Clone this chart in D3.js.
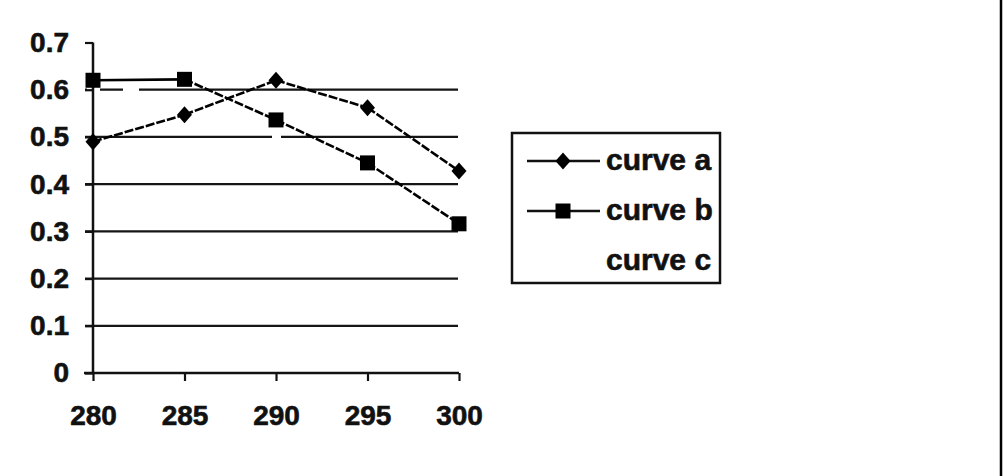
<!DOCTYPE html>
<html>
<head>
<meta charset="utf-8">
<script src="https://cdn.jsdelivr.net/npm/d3@7/dist/d3.min.js"></script>
<style>
  body { margin: 0; background: #fff; }
  text { font-family: "Liberation Sans", Arial, sans-serif; font-weight: bold; fill: #111; }
</style>
</head>
<body>
<div class="draw-chart"></div>
<script>
const xValues = [280, 285, 290, 295, 300];
const curveA = [0.49, 0.547, 0.62, 0.562, 0.428];
const curveB = [0.62, 0.622, 0.536, 0.445, 0.316];
const curveC = [null, null, null, null, null];
const yTicks = [0, 0.1, 0.2, 0.3, 0.4, 0.5, 0.6, 0.7];
const seriesNames = ["curve a", "curve b", "curve c"];

const W = 1004, H = 476;
const plot = { left: 93, right: 459, top: 42.5, bottom: 373 };

const svg = d3.select(".draw-chart")
  .append("svg")
  .attr("width", W)
  .attr("height", H);

svg.append("rect").attr("width", W).attr("height", H).attr("fill", "#fff");

// frame edge at the right
svg.append("line")
  .attr("x1", 1001).attr("x2", 1001)
  .attr("y1", 0).attr("y2", H)
  .attr("stroke", "#000").attr("stroke-width", 2.5);

let x = d3.scaleLinear().domain([280, 300]).range([plot.left, plot.right]);
let y = d3.scaleLinear().domain([0, 0.7]).range([plot.bottom, plot.top]);

// gridlines (they run out to the left as ticks)
let grid = svg.append("g");
grid.selectAll("line")
  .data(yTicks.filter((d) => d > 0 && d < 0.7))
  .enter()
  .append("line")
  .attr("x1", plot.left - 8)
  .attr("x2", plot.right - 1)
  .attr("y1", (d) => y(d))
  .attr("y2", (d) => y(d))
  .attr("stroke", "#151515")
  .attr("stroke-width", 2.2)
  .attr("stroke-dasharray", (d) => {
    if (Math.abs(d - 0.6) < 1e-9) return "2,13,23,16,400";
    if (Math.abs(d - 0.5) < 1e-9) return "187,9,300";
    return null;
  });

const tickFont = (sel) => sel
  .style("font-size", "28px")
  .style("font-family", "'Liberation Sans', Arial, sans-serif")
  .style("font-weight", "bold")
  .attr("fill", "#111")
  .attr("stroke", "#111")
  .attr("stroke-width", 0.6);

// y axis
let yAxis = d3.axisLeft(y)
  .tickValues(yTicks)
  .tickSize(8)
  .tickPadding(16)
  .tickFormat((d) => (d === 0 ? "0" : d3.format(".1f")(d)));

let yg = svg.append("g")
  .attr("transform", "translate(" + plot.left + ",0)")
  .call(yAxis);
yg.select(".domain").attr("stroke", "#111").attr("stroke-width", 2.5)
  .attr("d", "M0," + plot.top + "V" + plot.bottom);
yg.selectAll(".tick line").attr("stroke", "#111").attr("stroke-width", 2.2);
yg.selectAll(".tick text").call(tickFont);

// x axis
let xAxis = d3.axisBottom(x)
  .tickValues(xValues)
  .tickSize(8)
  .tickSizeOuter(0)
  .tickPadding(24);

let xg = svg.append("g")
  .attr("transform", "translate(0," + plot.bottom + ")")
  .call(xAxis);
xg.select(".domain").attr("stroke", "#111").attr("stroke-width", 2.5)
  .attr("d", "M" + (plot.left - 9) + ",0H" + plot.right);
xg.selectAll(".tick line").attr("stroke", "#111").attr("stroke-width", 2.2);
xg.selectAll(".tick text").call(tickFont);

// series lines, drawn segment by segment so the sloped parts get the
// broken look of the original
const series = [
  { name: seriesNames[0], values: curveA, marker: "diamond" },
  { name: seriesNames[1], values: curveB, marker: "square" },
  { name: seriesNames[2], values: curveC, marker: "none" },
];

series.forEach((s) => {
  let pts = xValues.map((xv, i) => ({ x: xv, v: s.values[i] }))
    .filter((p) => p.v != null);
  let segs = d3.pairs(pts);
  svg.append("g")
    .selectAll("line")
    .data(segs)
    .enter()
    .append("line")
    .attr("x1", (d) => x(d[0].x))
    .attr("y1", (d) => y(d[0].v))
    .attr("x2", (d) => x(d[1].x))
    .attr("y2", (d) => y(d[1].v))
    .attr("stroke", "#000")
    .attr("stroke-width", 2.6)
    .attr("stroke-dasharray", (d) =>
      Math.abs(y(d[0].v) - y(d[1].v)) > 3 ? "9,2" : null);
});

const diamond = "M0,-8.5L7.5,0L0,8.5L-7.5,0Z";
const square = "M-7.5,-7.5H7.5V7.5H-7.5Z";

series.forEach((s) => {
  if (s.marker === "none") return;
  svg.append("g")
    .selectAll("path")
    .data(xValues.map((xv, i) => ({ x: xv, v: s.values[i] })).filter((p) => p.v != null))
    .enter()
    .append("path")
    .attr("d", s.marker === "diamond" ? diamond : square)
    .attr("transform", (d) => "translate(" + x(d.x) + "," + y(d.v) + ")")
    .attr("fill", "#000");
});

// legend
let legend = svg.append("g");
legend.append("rect")
  .attr("x", 512).attr("y", 133)
  .attr("width", 208).attr("height", 150)
  .attr("fill", "none")
  .attr("stroke", "#111")
  .attr("stroke-width", 2.5);

let legendG = legend.selectAll(".legend")
  .data(series)
  .enter()
  .append("g")
  .attr("class", "legend")
  .attr("transform", (d, i) => "translate(0," + (161 + i * 50) + ")");

legendG.filter((d) => d.marker !== "none")
  .append("line")
  .attr("x1", 527).attr("x2", 600)
  .attr("y1", 0).attr("y2", 0)
  .attr("stroke", "#111")
  .attr("stroke-width", 2.4);

legendG.filter((d) => d.marker !== "none")
  .append("path")
  .attr("d", (d) => (d.marker === "diamond" ? diamond : square))
  .attr("transform", "translate(563,0)")
  .attr("fill", "#000");

legendG.append("text")
  .text((d) => d.name)
  .attr("x", 606)
  .attr("y", 9)
  .attr("stroke", "#111")
  .attr("stroke-width", 0.6)
  .style("font-size", "30px");
</script>
</body>
</html>
